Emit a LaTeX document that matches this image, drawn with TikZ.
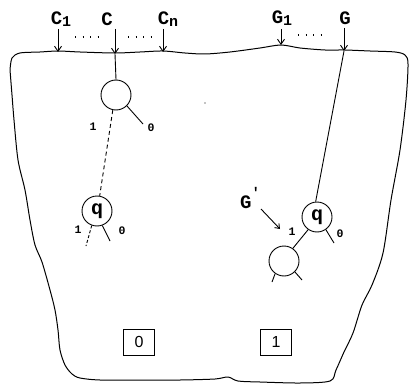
\documentclass[tikz,border=0pt]{standalone}
\usepackage{fontspec}
\newfontfamily\monofont{Liberation Mono}
\newfontfamily\sansf{Liberation Sans}
\usetikzlibrary{arrows.meta}
\begin{document}
\begin{tikzpicture}[x=1pt,y=-1pt,
  lbl/.style={inner sep=0pt,font=\monofont\bfseries\fontsize{19}{19}\selectfont},
  small/.style={inner sep=0pt,font=\monofont\bfseries\fontsize{11.5}{11.5}\selectfont},
  arr/.style={line width=0.9pt,-{Straight Barb[length=5pt,width=7pt]}},
  ln/.style={line width=0.9pt},
  bub/.style={circle,draw,line width=0.9pt,minimum size=30pt,inner sep=0pt,font=\monofont\bfseries\fontsize{20}{20}\selectfont},
  box/.style={draw,line width=0.8pt,minimum width=31pt,minimum height=26pt,inner sep=0pt,font=\sansf\fontsize{16}{16}\selectfont},
  dots/.style={line width=1.1pt,dash pattern=on 1.3pt off 6.2pt}]
\useasboundingbox (0,0) rectangle (409,385);
% outline
\draw[line width=1pt] plot[smooth,tension=0.5] coordinates {
 (10,70) (12,58) (20,53) (40,52) (58,51) (80,52) (115,53) (140,52) (163,51) (185,53) (205,54) (230,52) (260,48) (281,45) (300,48) (325,50) (345,50) (370,51) (395,52) (405,55) (408,64)
 (406,100) (400,150) (391,200) (383,253) (372,285) (362,305) (353,333) (344,352) (336,370) (330,381)
 (300,383) (260,382) (238,381) (228,377) (215,379) (180,380) (140,380) (100,380) (80,378) (72,374) (65,365) (60,350) (58,330) (55,310) (50,290) (42,262) (35,245) (30,220) (25,190) (18,160) (14,120) (12,95) (10,70)};
% top labels
\node[lbl] (C1) at (61,19) {C\raisebox{-0.25ex}{\fontsize{15}{15}\selectfont 1}};
\node[lbl] (C) at (107,19) {C};
\node[lbl] (Cn) at (168,19) {C\raisebox{-0.25ex}{\fontsize{15}{15}\selectfont n}};
\node[lbl] (G1) at (282,18) {G\raisebox{-0.25ex}{\fontsize{15}{15}\selectfont 1}};
\node[lbl] (G) at (345,18) {G};
% entry points on the outline
\coordinate (c1in) at (58,52);
\coordinate (cin) at (115,54);
\coordinate (cnin) at (163,52);
\coordinate (g1in) at (281,45);
\coordinate (gin) at (344,51);
\draw[arr] (c1in |- 0,29) -- (c1in);
\draw[arr] (cin |- 0,29) -- (cin);
\draw[arr] (cnin |- 0,29) -- (cnin);
\draw[arr] (g1in |- 0,29) -- (g1in);
\draw[arr] (gin |- 0,28) -- (gin);
\draw[dots] (75,37) -- (104,37);
\draw[dots] (128,37) -- (155,37);
\draw[dots] (298,35) -- (327,35);
% left chain
\node[bub] (n1) at (116,95) {};
\node[bub] (q1) at (97,211) {q};
\draw[ln] (cin) -- (n1.north);
\draw[ln] (n1.-45) -- (143,124);
\draw[ln,dash pattern=on 4pt off 3pt] (n1.258) -- (q1.80);
\node[small] (l1a) at (93,127) {1};
\node[small] (l0a) at (151,128) {0};
\draw[ln,dash pattern=on 3pt off 2pt] (q1.250) -- (86,246);
\draw[ln] (q1.-70) -- (110,241);
\node[small] (l1b) at (78,230) {1};
\node[small] (l0b) at (122,231) {0};
% right chain
\node[bub] (q2) at (317,217) {q};
\node[bub] (n3) at (284,261) {};
\draw[ln] (gin) -- (q2.95);
\draw[ln] (q2.235) -- (n3.55);
\draw[ln] (q2.-55) -- (334,243);
\draw[ln] (n3.235) -- (272,282);
\draw[ln] (n3.-45) -- (302,280);
\node[small] (l1c) at (292,232) {1};
\node[small] (l0c) at (340,234) {0};
\node[lbl] (Gp) at (250,198) {G\raisebox{1.1ex}{\fontsize{14}{14}\selectfont '}};
\draw[line width=0.9pt,-{Straight Barb[length=4pt,width=6pt]}] (261,209) -- (280,229);
% result boxes
\node[box] (b0) at (139,342) {0};
\node[box] (b1) at (276,342) {1};
\fill (205,103) circle (0.6pt);
\end{tikzpicture}
\end{document}
